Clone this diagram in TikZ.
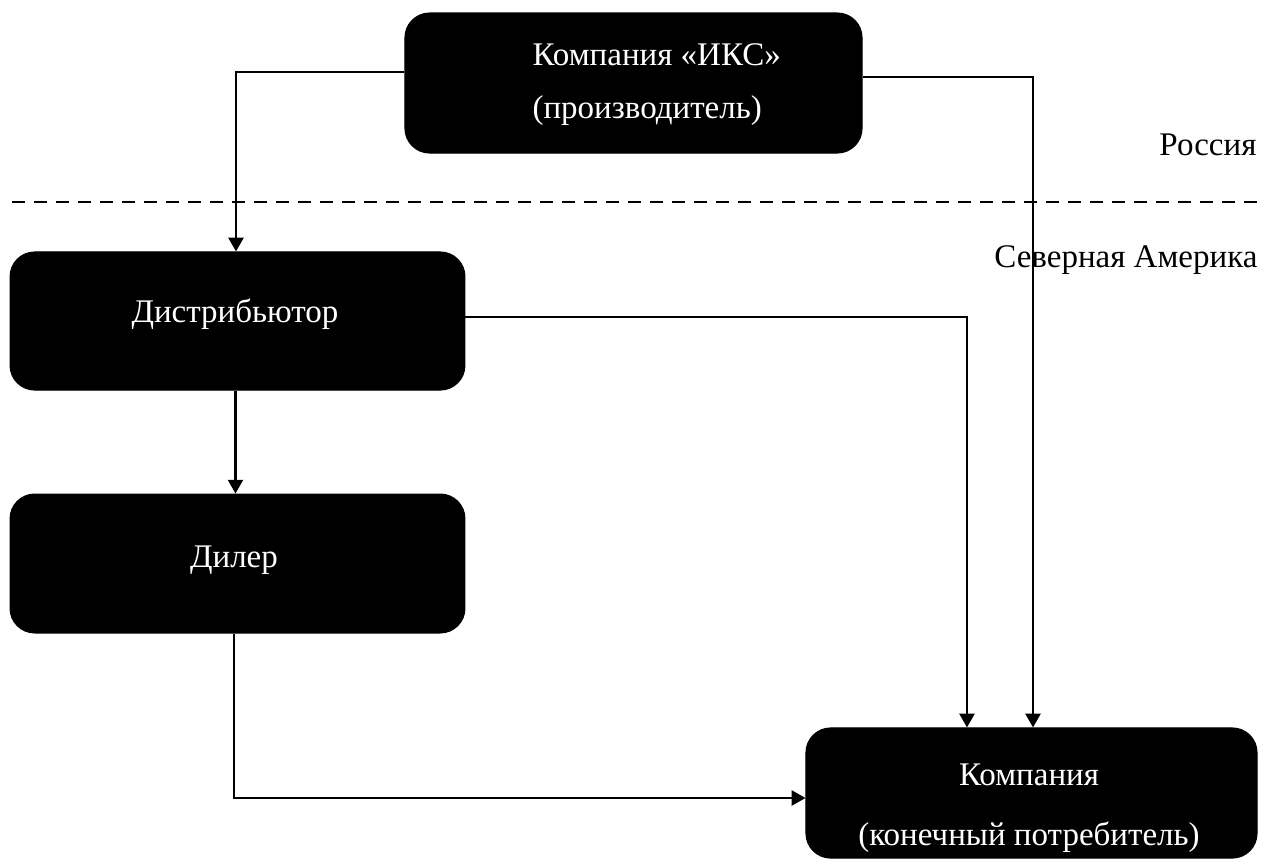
\documentclass[tikz,border=0pt]{standalone}
\usepackage{fontspec}
\setmainfont{Liberation Serif}
\usepackage{tikz}
\usetikzlibrary{calc}
\usetikzlibrary{arrows.meta}

\tikzset{
	blk/.style={draw=black,fill=black,rounded corners=9pt,inner sep=0pt},
	txt/.style={text=white,inner sep=0pt,font=\fontsize{12}{14}\selectfont},
	lbl/.style={text=black,inner sep=0pt,font=\fontsize{12}{14}\selectfont},
	link/.style={-{Triangle[width=5.5pt,length=5pt]},line width=0.75pt},
}

\begin{document}
\begin{tikzpicture}[x=0.3636pt,y=-0.3636pt]
	\useasboundingbox (0,0) rectangle (1273,863);
	\node[blk,minimum width=166.2pt,minimum height=50.9pt] (maker) at (633.5,83) {};
	\node[blk,minimum width=165.4pt,minimum height=50.2pt] (dist) at (237.5,321) {};
	\node[blk,minimum width=165.4pt,minimum height=50.5pt] (dealer) at (237.5,563.5) {};
	\node[blk,minimum width=164pt,minimum height=47.3pt] (client) at (1031.5,793) {};
	\node[txt,anchor=north west,align=left,font=\fontsize{12}{19.3}\selectfont] (makertxt) at (532,43) {Компания «ИКС»\\(производитель)};
	\node[txt,anchor=base] (disttxt) at (235,322) {Дистрибьютор};
	\node[txt,anchor=base] (dealertxt) at (234,567) {Дилер};
	\node[txt,anchor=north,align=center,font=\fontsize{12}{21.8}\selectfont] (clienttxt) at (1029,763) {Компания\\(конечный потребитель)};
	% border
	\coordinate (bl) at (12,202);
	\coordinate (br) at (1263,202);
	\draw[line width=0.9pt,dash pattern=on 4.7pt off 3.3pt] (bl) -- (br);
	\node[lbl,anchor=base east] (ru) at (1257,155) {Россия};
	\node[lbl,anchor=base east] (na) at (1258,267) {Северная Америка};
	% flows
	\draw[link] ($(maker.west)+(0,-11)$) -| ($(dist.north)+(-1.5,0)$);
	\draw[link] ($(maker.east)+(0,-6)$) -| ($(client.north)+(1.5,0)$);
	\draw[link] ($(dist.east)+(0,-4)$) -| ($(client.north)+(-64.5,0)$);
	\draw[link] ($(dist.south)+(-2,0)$) -- ($(dealer.north)+(-2,0)$);
	\draw[link] ($(dealer.south)+(-3.5,0)$) |- ($(client.west)+(0,5)$);
\end{tikzpicture}
\end{document}
